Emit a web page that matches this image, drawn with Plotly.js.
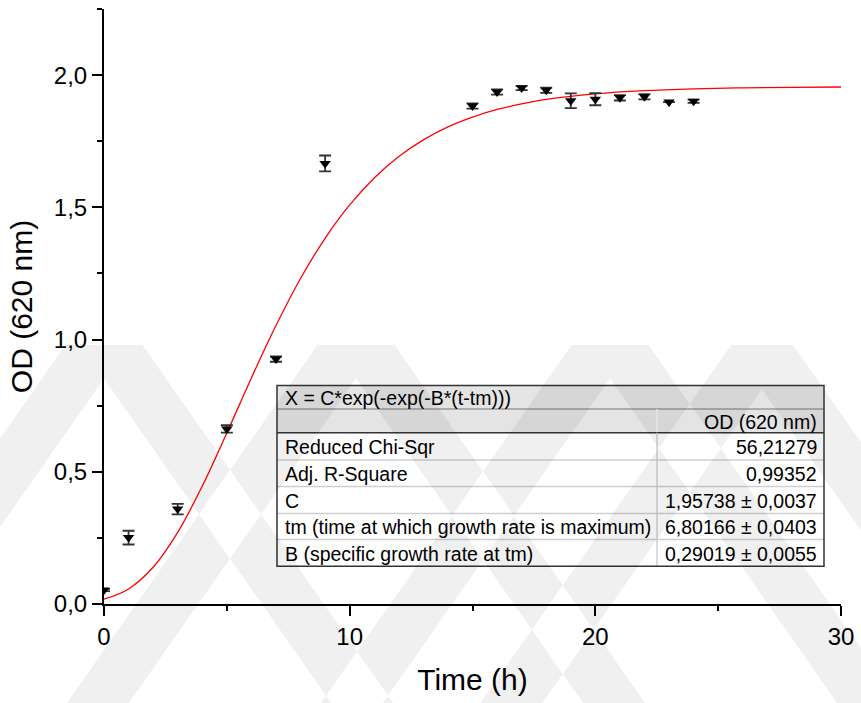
<!DOCTYPE html>
<html><head><meta charset="utf-8">
<script src="https://cdn.plot.ly/plotly-3.0.1.min.js"></script>
<style>html,body{margin:0;padding:0;background:#fff}#chart{width:861px;height:703px}</style>
</head><body><div id="chart"></div>
<script>
// ---- data ----
const timeH = [0, 1, 3, 5, 7, 9, 15, 16, 17, 18, 19, 20, 21, 22, 23, 24];
const odMean = [0.053, 0.251, 0.359, 0.662, 0.926, 1.666, 1.883, 1.936, 1.951, 1.943, 1.903, 1.909, 1.914, 1.918, 1.898, 1.901];
const odErr = [0.004, 0.026, 0.02, 0.014, 0.01, 0.03, 0.01, 0.01, 0.008, 0.01, 0.028, 0.023, 0.01, 0.01, 0, 0.006];

// fitted curve
const fitTime = [0, 1, 2, 3, 4, 5, 6, 7, 8, 9, 10, 11, 12, 13, 14, 15, 16, 17, 18, 20, 22, 24, 26, 28, 30];
const fitOD = [0.018, 0.057, 0.139, 0.271, 0.446, 0.647, 0.855, 1.053, 1.231, 1.383, 1.509, 1.611, 1.692, 1.755, 1.804, 1.841, 1.870, 1.891, 1.908, 1.929, 1.941, 1.948, 1.952, 1.954, 1.955];

const xTickVals = [0, 10, 20, 30];
const xTickText = ["0", "10", "20", "30"];
const yTickVals = [0, 0.5, 1.0, 1.5, 2.0];
const yTickText = ["0,0", "0,5", "1,0", "1,5", "2,0"];

const fitTitle = "X = C*exp(-exp(-B*(t-tm)))";
const colHeader = "OD (620 nm)";
const rowLabels = ["Reduced Chi-Sqr", "Adj. R-Square", "C", "tm (time at which growth rate is maximum)", "B (specific growth rate at tm)"];
const rowValues = ["56,21279", "0,99352", "1,95738 ± 0,0037", "6,80166 ± 0,0403", "0,29019 ± 0,0055"];

// ---- layout geometry ----
const FONT = "Liberation Sans, Arial, Helvetica, sans-serif";
const M = {l: 104, r: 20, t: 9, b: 99};
const PW = 861 - M.l - M.r, PH = 703 - M.t - M.b;
const px2x = p => (p - M.l) / PW;
const py2y = p => (703 - M.b - p) / PH;

const shapes = [];
const annotations = [];

// table geometry (pixels)
const tL = 277, tR = 824, tC = 657;
const tTop = 385.6, tTitleB = 409, tHeadB = 432.7;
const rowB = [460, 486.5, 513.4, 539.4, 566.3];

function rect(x0, y0, x1, y1, fill, lineColor, lw) {
  shapes.push({type: 'rect', xref: 'paper', yref: 'paper', layer: 'above',
    x0: px2x(x0), x1: px2x(x1), y0: py2y(y1), y1: py2y(y0),
    fillcolor: fill, line: {color: lineColor || 'rgba(0,0,0,0)', width: lw || 0}});
}
function line(x0, y0, x1, y1, color, w) {
  shapes.push({type: 'line', xref: 'paper', yref: 'paper', layer: 'above',
    x0: px2x(x0), x1: px2x(x1), y0: py2y(y0), y1: py2y(y1),
    line: {color: color, width: w}});
}
// backgrounds
rect(tL, tTop, tR, rowB[rowB.length - 1], '#ffffff');
rect(tL, tTop, tR, tHeadB, '#e4e4e4');
// inner lines
line(tL, tTitleB, tR, tTitleB, '#9a9a9a', 1.5);
line(tC, tTitleB, tC, tHeadB, '#f4f4f4', 1.5);
line(tL, tHeadB, tR, tHeadB, '#333333', 1.5);
for (let i = 0; i < rowB.length - 1; i++) line(tL, rowB[i], tR, rowB[i], '#cfcfcf', 1.5);
line(tC, tHeadB, tC, rowB[rowB.length - 1], '#cfcfcf', 1.5);
// outer border
rect(tL, tTop, tR, rowB[rowB.length - 1], 'rgba(0,0,0,0)', '#333333', 1.5);

const TF = {family: FONT, size: 19.5, color: '#000'};
function txt(x, y, s, anchor) {
  annotations.push({xref: 'paper', yref: 'paper', x: px2x(x), y: py2y(y), text: s,
    showarrow: false, xanchor: anchor, yanchor: 'middle', font: TF});
}
txt(283, (tTop + tTitleB) / 2 + 1, fitTitle, 'left');
txt(819, (tTitleB + tHeadB) / 2 + 1, colHeader, 'right');
let prev = tHeadB;
for (let i = 0; i < rowLabels.length; i++) {
  const c = (prev + rowB[i]) / 2 + 1;
  txt(283, c, rowLabels[i], 'left');
  txt(819, c, rowValues[i], 'right');
  prev = rowB[i];
}

// ---- watermark chevrons (faint background pattern) ----
function chevron(cx, ytop, Wt, bw, s) {
  const Hh = 703 - ytop;
  const d = (bw - Wt / 2) / s;
  const pts = [
    [cx - Wt / 2, ytop], [cx + Wt / 2, ytop],
    [cx + Wt / 2 + s * Hh, 703], [cx + Wt / 2 + s * Hh - bw, 703],
    [cx, ytop + d],
    [cx - Wt / 2 - s * Hh + bw, 703], [cx - Wt / 2 - s * Hh, 703]
  ];
  return 'M' + pts.map(p => px2x(p[0]).toFixed(5) + ',' + py2y(p[1]).toFixed(5)).join(' L') + ' Z';
}
let wm = '';
[[104, 77], [356, 77], [610, 77], [762, 62]].forEach(c => { wm += chevron(c[0], 345, c[1], 62, 0.7) + ' '; });
shapes.push({type: 'path', xref: 'paper', yref: 'paper', layer: 'above', path: wm,
  fillcolor: 'rgba(0,0,0,0.06)', line: {width: 0}});

// ---- traces ----
const traces = [
  {x: fitTime, y: fitOD, type: 'scatter', mode: 'lines',
   line: {color: '#ff0000', width: 1.3, shape: 'spline', smoothing: 1}, hoverinfo: 'skip'},
  {x: timeH, y: odMean, type: 'scatter', mode: 'markers',
   marker: {symbol: 'triangle-down', size: 10, color: '#000000'},
   error_y: {type: 'data', array: odErr, visible: true, color: '#333333', thickness: 1.8, width: 6}}
];

const axisCommon = {
  showline: true, linecolor: '#000', linewidth: 2, showgrid: false, zeroline: false,
  ticks: 'outside', ticklen: 10, tickwidth: 2, tickcolor: '#000',
  tickfont: {family: FONT, size: 24, color: '#000'}
};

const layout = {
  width: 861, height: 703, margin: M,
  paper_bgcolor: '#fff', plot_bgcolor: 'rgba(0,0,0,0)', showlegend: false,
  xaxis: Object.assign({}, axisCommon, {
    range: [0, 30], tickmode: 'array', tickvals: xTickVals, ticktext: xTickText,
    minor: {dtick: 5, tick0: 0, ticks: 'outside', ticklen: 5, tickwidth: 2, tickcolor: '#000'},
    title: {text: 'Time (h)', font: {family: FONT, size: 30, color: '#000'}, standoff: 20}
  }),
  yaxis: Object.assign({}, axisCommon, {
    range: [0, 2.25], tickmode: 'array', tickvals: yTickVals, ticktext: yTickText,
    minor: {dtick: 0.25, tick0: 0, ticks: 'outside', ticklen: 5, tickwidth: 2, tickcolor: '#000'},
    title: {text: 'OD (620 nm)', font: {family: FONT, size: 30, color: '#000'}, standoff: 12}
  }),
  shapes: shapes, annotations: annotations
};

Plotly.newPlot('chart', traces, layout, {displayModeBar: false, staticPlot: true});
</script></body></html>
